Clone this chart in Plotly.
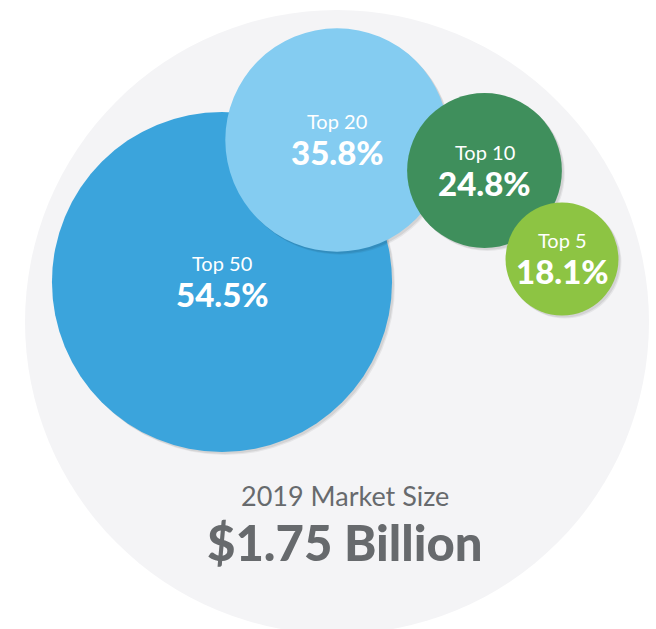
import plotly.graph_objects as go

# ---- data ----
categories = ["Top 50", "Top 20", "Top 10", "Top 5"]
shares = [54.5, 35.8, 24.8, 18.1]          # % of market
market_share_total = 100.0
market_label = "2019 Market Size"
market_value = "$1.75 Billion"

# ---- layout (positions / styles) ----
px_per_pct = 3.12
center_x = [222, 337, 484.5, 562]
center_y = [282, 140, 170.5, 259]
colors = ["#3BA4DC", "#84CCF1", "#3F8F5C", "#8DC443"]
market_center = (337, 322)
market_color = "#F4F4F6"
text_gray = "#676A6D"

W, H = 656, 629
fig = go.Figure()

shapes = []
R = market_share_total * px_per_pct
cx, cy = market_center
shapes.append(dict(type="circle", xref="x", yref="y",
                   x0=cx - R, x1=cx + R, y0=cy - R, y1=cy + R,
                   fillcolor=market_color, line=dict(width=0), layer="below"))

order = [0, 1, 2, 3]
for i in order:
    r = shares[i] * px_per_pct
    x, y = center_x[i], center_y[i]
    # soft shadow
    for off, a in [(3, 0.06), (2, 0.08)]:
        shapes.append(dict(type="circle", xref="x", yref="y",
                           x0=x - r + off, x1=x + r + off,
                           y0=y - r + off, y1=y + r + off,
                           fillcolor=f"rgba(0,0,0,{a})", line=dict(width=0), layer="below"))
    shapes.append(dict(type="circle", xref="x", yref="y",
                       x0=x - r, x1=x + r, y0=y - r, y1=y + r,
                       fillcolor=colors[i], line=dict(width=0), layer="below"))

annotations = []
for i in order:
    annotations.append(dict(x=center_x[i], y=center_y[i] - 19, xref="x", yref="y",
                            text=categories[i], showarrow=False,
                            font=dict(family="Lato", size=20, color="white"),
                            xanchor="center", yanchor="middle"))
    annotations.append(dict(x=center_x[i], y=center_y[i] + 12, xref="x", yref="y",
                            text=f"{shares[i]:.1f}%", showarrow=False,
                            font=dict(family="Lato", size=33, color="white", weight=900),
                            xanchor="center", yanchor="middle"))

annotations.append(dict(x=345, y=495, xref="x", yref="y", text=market_label,
                        showarrow=False, font=dict(family="Lato", size=27, color=text_gray),
                        xanchor="center", yanchor="middle"))
annotations.append(dict(x=345, y=542, xref="x", yref="y", text=market_value,
                        showarrow=False, font=dict(family="Lato", size=49, color=text_gray, weight=900),
                        xanchor="center", yanchor="middle"))

# invisible trace to anchor axes
fig.add_trace(go.Scatter(x=center_x, y=center_y, mode="markers",
                         marker=dict(size=1, opacity=0), hoverinfo="skip", showlegend=False))

fig.update_layout(
    width=W, height=H,
    margin=dict(l=0, r=0, t=0, b=0),
    paper_bgcolor="white", plot_bgcolor="white",
    shapes=shapes, annotations=annotations,
    xaxis=dict(range=[0, W], visible=False, fixedrange=True),
    yaxis=dict(range=[H, 0], visible=False, fixedrange=True),
    showlegend=False,
)

fig.write_html("out.html", config={"displayModeBar": False},
               post_script="document.body.style.margin='0';document.body.style.overflow='hidden';")
